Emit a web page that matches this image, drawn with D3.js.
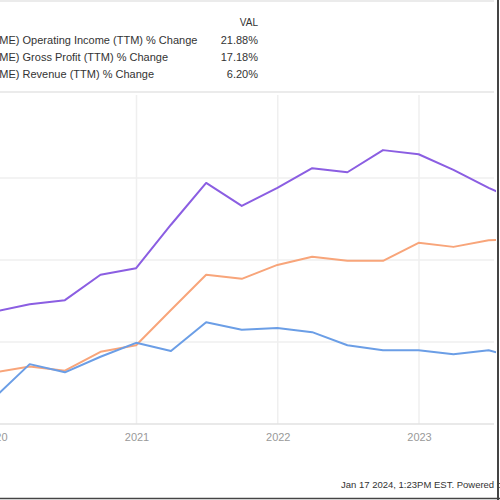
<!DOCTYPE html>
<html>
<head>
<meta charset="utf-8">
<script src="https://cdn.jsdelivr.net/npm/d3@7"></script>
<style>
  body { margin: 0; background: #fff; }
  svg { display: block; font-family: "Liberation Sans", Arial, sans-serif; }
</style>
</head>
<body>
<div id="chart"></div>
<script>
// quarter-end dates of the TTM series
var dates = ["2019-12-31","2020-03-31","2020-06-30","2020-09-30","2020-12-31",
             "2021-03-31","2021-06-30","2021-09-30","2021-12-31",
             "2022-03-31","2022-06-30","2022-09-30","2022-12-31",
             "2023-03-31","2023-06-30","2023-09-30"];

// series values (% change)
var operatingIncome = [13.7,14.6,15.1,18.2,19.0,24.3,29.4,26.6,28.8,31.2,30.7,33.4,32.9,31.0,28.8,26.8];
var grossProfit     = [6.3,7.0,6.5,8.8,9.6,13.9,18.2,17.7,19.4,20.4,19.9,19.9,22.1,21.6,22.4,22.6];
var revenue         = [3.2,7.3,6.3,8.2,9.9,8.9,12.4,11.5,11.7,11.2,9.6,9.0,9.0,8.5,9.0,7.8];

var seriesNames  = ["AME) Operating Income (TTM) % Change",
                    "AME) Gross Profit (TTM) % Change",
                    "AME) Revenue (TTM) % Change"];
var legendValues = ["21.88%","17.18%","6.20%"];
var yTicks = [0,10,20,30,40];
var xTickYears = [2020,2021,2022,2023];

var W = 500, H = 500;
var parseDate = d3.timeParse("%Y-%m-%d");

var svg = d3.select("#chart").append("svg")
    .attr("width", W).attr("height", H);

// scales
var x = d3.scaleTime()
    .domain([new Date(2021,0,1), new Date(2023,0,1)])
    .range([136.5, 419]);
var y = d3.scaleLinear()
    .domain([0, 40])
    .range([424, 96]);

var colors = ["#8b5ee2","#f8a57a","#6b9ee6"];

// frame lines
svg.append("line").attr("x1",0).attr("x2",494).attr("y1",1).attr("y2",1)
    .attr("stroke","#e4e4e4").attr("stroke-width",1.5);
svg.append("line").attr("x1",0).attr("x2",494).attr("y1",92).attr("y2",92)
    .attr("stroke","#e4e4e4").attr("stroke-width",1.5);

// legend
svg.append("text").attr("x",258).attr("y",26).attr("text-anchor","end")
    .style("font-size","10px").attr("fill","#333").text("VAL");
var leg = svg.selectAll(".leg").data(seriesNames).enter().append("g")
    .attr("transform", function(d,i){ return "translate(0," + (44 + i*17) + ")"; });
leg.append("text").attr("x",-8)
    .style("font-size","11px").attr("fill","#333")
    .text(function(d){ return d; });
leg.append("text").attr("x",258).attr("text-anchor","end")
    .style("font-size","11px").attr("fill","#333")
    .text(function(d,i){ return legendValues[i]; });

// gridlines
var plot = svg.append("g");
plot.selectAll(".hg").data(yTicks.slice(1,4)).enter().append("line")
    .attr("x1",0).attr("x2",494)
    .attr("y1",function(d){ return y(d); }).attr("y2",function(d){ return y(d); })
    .attr("stroke","#efefef").attr("stroke-width",1.5);
plot.selectAll(".vg").data(xTickYears.slice(1)).enter().append("line")
    .attr("x1",function(d){ return x(new Date(d,0,1)); })
    .attr("x2",function(d){ return x(new Date(d,0,1)); })
    .attr("y1",95).attr("y2",424)
    .attr("stroke","#efefef").attr("stroke-width",1.5);

// x axis
var xAxis = d3.axisBottom(x)
    .tickValues(xTickYears.map(function(d){ return new Date(d,0,1); }))
    .tickFormat(d3.timeFormat("%Y"))
    .tickSize(0).tickPadding(9);
var gx = svg.append("g").attr("transform","translate(0,424)").call(xAxis);
gx.select(".domain").remove();
gx.selectAll("text").style("font-size","11px").attr("fill","#999")
    .style("font-family","Liberation Sans, Arial, sans-serif");
svg.append("line").attr("x1",0).attr("x2",494).attr("y1",424).attr("y2",424)
    .attr("stroke","#e2e2e2").attr("stroke-width",1.5);

// lines
svg.append("clipPath").attr("id","clip").append("rect")
    .attr("x",0).attr("y",90).attr("width",496).attr("height",340);

var line = d3.line()
    .x(function(d){ return x(d.date); })
    .y(function(d){ return y(d.value); });

[operatingIncome, grossProfit, revenue].forEach(function(vals, i){
    var data = vals.map(function(v,j){ return {date: parseDate(dates[j]), value: v}; });
    svg.append("path").datum(data)
        .attr("clip-path","url(#clip)")
        .attr("fill","none")
        .attr("stroke", colors[i])
        .attr("stroke-width",2)
        .attr("stroke-linejoin","round")
        .attr("d", line);
});

// footer
svg.append("text").attr("x",341).attr("y",488)
    .style("font-size","9.5px").attr("fill","#333")
    .text("Jan 17 2024, 1:23PM EST.  Powered by YCharts");

// outer dark border on right and bottom
svg.append("line").attr("x1",498).attr("x2",498).attr("y1",0).attr("y2",500)
    .attr("stroke","#444").attr("stroke-width",2);
svg.append("line").attr("x1",0).attr("x2",500).attr("y1",498.5).attr("y2",498.5)
    .attr("stroke","#444").attr("stroke-width",1.5);
</script>
</body>
</html>
